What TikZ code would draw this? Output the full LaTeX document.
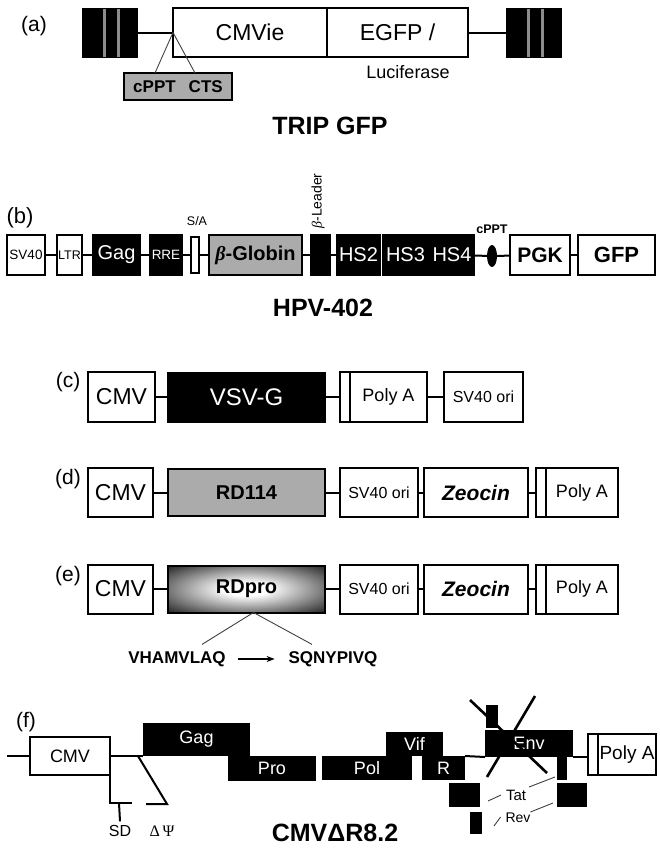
\documentclass[tikz,border=0pt]{standalone}
\usepackage{amsmath,amssymb}
\usepackage{fontspec}
\setmainfont{Liberation Sans}
\newfontfamily\grk{Liberation Serif}
\usepackage{tikz}
\usetikzlibrary{arrows.meta, positioning, shapes.geometric, calc}
\newcommand{\fsz}[1]{\fontsize{#1}{#1}\selectfont}
\pgfdeclareradialshading{rdglow}{\pgfpoint{0bp}{0bp}}{color(0bp)=(white); color(7bp)=(white); color(40bp)=(black); color(50bp)=(black)}

\begin{document}
\begin{tikzpicture}[x=1pt, y=-1pt,
    every node/.style={inner sep=0pt, outer sep=0pt},
    sz/.style 2 args={minimum width=#1, minimum height=#2},
    wbox/.style={rectangle, draw, fill=white, line width=2pt},
    bbox/.style={rectangle, draw, fill=black, text=white, line width=2pt},
    gbox/.style={rectangle, draw, fill=black!33, line width=2pt},
    blk/.style={rectangle, fill=black, text=white},
    polybox/.style={wbox, path picture={\draw[line width=2pt]
        ([xshift=10pt]path picture bounding box.north west) -- ([xshift=10pt]path picture bounding box.south west);}},
    link/.style={line width=2pt},
    thinln/.style={line width=0.9pt, black!75},
    tag/.style={font=\fsz{21}},
    title/.style={font=\fsz{25}\bfseries},
]
\useasboundingbox (0,0) rectangle (660,849);

% (a) TRIP GFP
\node[tag] (la) at (34,26) {(a)};
\foreach \n/\c in {ltrL/110, ltrR/534}{
  \node[bbox, sz={54}{48}] (\n) at (\c,32.5) {};
  \draw[line width=2.4pt, black!45] ([xshift=-5.5pt]\n.north) -- ([xshift=-5.5pt]\n.south)
        ([xshift=8.5pt]\n.north) -- ([xshift=8.5pt]\n.south);
}
\node[wbox, sz={154}{49}, font=\fsz{23}] (cmvie) at (250,32.5) {CMVie};
\node[wbox, sz={141}{49}, font=\fsz{23}, right=0pt of cmvie] (egfp) {EGFP /};
\draw[link] (ltrL) -- (cmvie);
\draw[link] (egfp) -- (ltrR);
\node[gbox, sz={108}{27}, font=\fsz{17}\bfseries] (flap) at (178,86.5) {cPPT\hspace{13pt}CTS};
\draw[thinln] (cmvie.west) -- ([xshift=-23pt]flap.north);
\draw[thinln] (cmvie.west) -- ([xshift=17pt]flap.north);
\node[font=\fsz{18}] (luc) at (408,72) {Luciferase};
\node[title] (tripgfp) at (330,126) {TRIP GFP};

% (b) HPV-402
\node[tag, font=\fsz{22}] (lb) at (20,218) {(b)};
\node[wbox, sz={38}{40}, font=\fsz{13.5}] (sv40) at (26,255) {SV40};
\node[wbox, sz={25}{40}, font=\fsz{12.5}] (ltr) at (69.5,255) {LTR};
\node[bbox, sz={47}{40}, font=\fsz{20}] (gagB) at (116.5,255) {Gag};
\node[bbox, sz={32}{40}, font=\fsz{13.5}] (rre) at (166,255) {RRE};
\node[wbox, sz={8}{36}] (sa) at (195,255) {};
\node[gbox, sz={93}{40}, font=\fsz{20}\bfseries] (bglob) at (255.5,255) {{\grk\itshape β}-Globin};
\node[bbox, sz={19}{40}] (blead) at (320.5,255) {};
\node[bbox, sz={43}{40}, font=\fsz{20}] (hs2) at (358.5,255) {HS2};
\node[bbox, sz={45}{40}, font=\fsz{20}] (hs3) at (405.5,255) {HS3};
\node[bbox, sz={44}{40}, font=\fsz{20}] (hs4) at (452,255) {HS4};
\node[ellipse, fill=black, sz={10}{22}] (cppt) at (492,256) {};
\node[wbox, sz={60}{40}, font=\fsz{21}\bfseries] (pgk) at (540,255) {PGK};
\node[wbox, sz={77}{40}, font=\fsz{22}\bfseries] (gfp) at (616.5,255) {GFP};
\foreach \a/\b in {sv40/ltr, ltr/gagB, gagB/rre, rre/sa, sa/bglob, bglob/blead, blead/hs2, hs4/cppt, cppt/pgk, pgk/gfp}
  \draw[link] (\a) -- (\b);
\node[font=\fsz{12.5}] (salab) at (197,221) {S/A};
\node[font=\fsz{14}, rotate=90] (leadlab) at (318,201) {{\grk\itshape β}-Leader};
\node[font=\fsz{12.5}\bfseries] (cpptlab) at (492,229) {cPPT};
\node[title] (hpv) at (323,308) {HPV-402};

% (c)
\node[tag] (lc) at (68,382) {(c)};
\node[wbox, sz={67}{50}, font=\fsz{23}] (cmvC) at (121.5,397) {CMV};
\node[bbox, sz={157}{49}, font=\fsz{24}] (vsvg) at (246.5,397) {VSV-G};
\node[polybox, sz={87}{50}, font=\fsz{18}] (polyC) at (383.5,397) {\hspace*{10pt}Poly A};
\node[wbox, sz={79}{50}, font=\fsz{16}] (oriC) at (483.5,397) {SV40 ori};
\foreach \a/\b in {cmvC/vsvg, vsvg/polyC, polyC/oriC}
  \draw[link] (\a) -- (\b);

% (d) and (e)
\node[tag] (ld) at (68,479) {(d)};
\node[tag] (le) at (68,576) {(e)};
\foreach \r/\y in {D/492.5, E/589}{
  \node[wbox, sz={65}{49}, font=\fsz{23}] (cmv\r) at (120.5,\y) {CMV};
  \node[wbox, sz={78}{49}, font=\fsz{16}] (ori\r) at (379,\y) {SV40 ori};
  \node[wbox, sz={104}{49}, font=\fsz{21}\bfseries\itshape] (zeo\r) at (476,\y) {Zeocin};
  \node[polybox, sz={82}{49}, font=\fsz{18}] (poly\r) at (577,\y) {\hspace*{10pt}Poly A};
}
\node[gbox, sz={157}{47}, font=\fsz{20}\bfseries] (envD) at (246.5,492.5) {RD114};
\node[rectangle, draw, line width=2pt, shade, shading=rdglow, sz={157}{47}, font=\fsz{20}\bfseries] (envE) at (246.5,589) {RDpro};
\foreach \r in {D, E}
  \foreach \a/\b in {cmv/env, env/ori, ori/zeo, zeo/poly}
    \draw[link] (\a\r) -- (\b\r);
\node[font=\fsz{17}\bfseries] (vham) at (177,659) {VHAMVLAQ};
\node[font=\fsz{17}\bfseries] (sqny) at (333,659) {SQNYPIVQ};
\draw[thinln] ([xshift=7pt]envE.south) -- ([shift={(25,-7)}]vham.north);
\draw[thinln] ([xshift=7pt]envE.south) -- ([shift={(-21,-7)}]sqny.north);
\draw[-{Stealth[length=8pt, width=6pt]}, line width=1.3pt, shorten <=12pt, shorten >=14pt] (vham) -- (sqny);

% (f) CMV delta R8.2
\node[tag] (lf) at (26,722) {(f)};
\coordinate (fstart) at (7,756);
\node[wbox, sz={80}{38}, font=\fsz{18}] (cmvF) at (70,756) {CMV};
\node[blk, sz={107}{33}, font=\fsz{18}] (gagF) at (196.5,739.5) {Gag};
\node[blk, sz={88}{25}, font=\fsz{18}] (proF) at (272,768.5) {Pro};
\node[blk, sz={90}{24}, font=\fsz{18}] (polF) at (367,768) {Pol};
\node[blk, sz={57}{24}, font=\fsz{18}] (vifF) at (414.5,744) {Vif};
\node[blk, sz={43}{24}, font=\fsz{18}] (rF) at (443.5,768) {R};
\node[blk, sz={88}{27}, font=\fsz{18}] (envF) at (529,743.5) {Env};
\node[blk, sz={12}{23}] (envT) at (492,716.5) {};
\node[blk, sz={10}{23}] (envS) at (562,768.5) {};
\node[blk, sz={31}{24}] (tatL) at (464.5,795) {};
\node[blk, sz={30}{24}] (tatR) at (572,795) {};
\node[blk, sz={12}{22}] (revL) at (476,823) {};
\node[polybox, sz={68}{41}, font=\fsz{19}] (polyF) at (622,754.5) {\hspace*{10pt}Poly A};
\draw[link] (fstart) -- (cmvF);
\draw[link] (cmvF.east) -- (gagF.south west);
\draw[link] (rF.north east) -- (envF.south west);
\draw[link] (envF.south east) -- (envF.south east -| polyF.west);
% knocked-out env
\draw[line width=2.6pt] (470,700) -- (547,773);
\draw[line width=2.6pt] (535,696) -- (487,777);
% splice donor and packaging deletion
\node[font=\fsz{16}] (sd) at (120,831) {SD};
\node[font=\fsz{16}\grk] (psi) at (162,831) {Δ\,Ψ};
\coordinate (sdbar) at (132,803);
\coordinate (psitop) at (138,756);
\draw[link] (cmvF.south east) |- (sdbar);
\draw[link] (cmvF.south east |- sdbar) ++(9,0) -- ([yshift=4pt]sd.north);
\draw[link] (psitop) -- (167,804) -- (146,804);
% Tat and Rev exons
\node[font=\fsz{15}] (tat) at (516,795) {Tat};
\node[font=\fsz{14}] (rev) at (518,818) {Rev};
\draw[thinln] ([shift={(8,6)}]tatL.east) -- ([xshift=-5pt]tat.west);
\draw[thinln] ([shift={(3,-8)}]tat.east) -- ([shift={(-2,-3)}]envS.south west);
\draw[thinln] ([shift={(12,3)}]revL.east) -- ([shift={(-5,-1)}]rev.west);
\draw[thinln] ([shift={(0,-6)}]rev.east) -- ([shift={(-4,-4)}]tatR.south west);
\node[title] (cmvdr) at (335,833) {CMVΔR8.2};
\end{tikzpicture}
\end{document}
